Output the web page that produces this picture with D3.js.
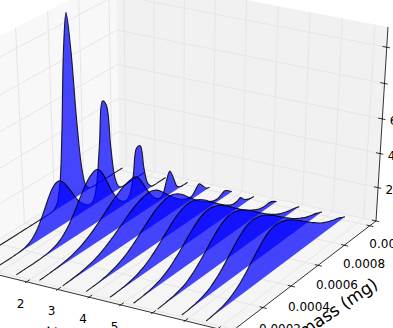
<!DOCTYPE html>
<html>
<head>
<meta charset="utf-8">
<script src="https://cdn.jsdelivr.net/npm/d3@7"></script>
<style>
html, body { margin: 0; padding: 0; background: #fff; overflow: hidden; }
svg { display: block; }
text { font-family: "DejaVu Sans", sans-serif; fill: #000; }
</style>
</head>
<body>
<div id="plot"></div>
<script>
const xTicks = [0, 1, 2, 3, 4, 5, 6, 7, 8];
const xLabels = [2, 3, 4, 5];
const massTicks = [0.0002, 0.0004, 0.0006, 0.0008, 0.0010, 0.0012];
const massLabels = [0.0002, 0.0004, 0.0006, 0.0008, 0.0010];
const zTicks = [0, 2, 4, 6, 8, 10];
const zLabels = [2, 4, 6];
const curveX = [0, 0.75, 1.5, 2.25, 3, 3.75, 4.5, 5.25, 6, 6.75, 7.5];
const massGrid = [
    0.000212, 0.000234, 0.000256, 0.000278, 0.000301, 0.000323, 0.000346, 0.000368, 0.000391, 0.000414, 0.000437,
    0.00046, 0.000483, 0.000506, 0.000529, 0.000553, 0.000576, 0.0006, 0.000624, 0.000647, 0.000671, 0.000695,
    0.00072, 0.000744, 0.000768, 0.000793, 0.000817, 0.000842, 0.000867, 0.000891, 0.000916, 0.000942, 0.000967,
    0.000992, 0.001017, 0.001043, 0.001068, 0.001094, 0.00112, 0.001146, 0.001172, 0.001198, 0.001224
];
const curve0 = [0,0,0,0,0,0,0,0,0,0,0,0,0,0,0,0,0,0,0,0,0,0,0,.04,.31,1.46,4.43,8.64,10.8,8.64,4.43,1.46,.31,.04,0,0,0,0,0,0,0,0,0];
const curve1 = [0,0,0,0,0,0,.01,.02,.04,.09,.18,.33,.56,.88,1.28,1.73,2.16,2.5,2.68,2.66,2.44,2.08,1.64,1.19,.8,.5,.29,.19,.29,1.16,3.38,5.75,5.4,2.83,.83,.14,0,0,0,0,0,0,0];
const curve2 = [0,0,0,0,0,0,.01,.02,.04,.07,.12,.19,.3,.45,.66,.92,1.23,1.58,1.96,2.32,2.65,2.9,3.06,3.09,2.89,2.44,1.88,1.31,.83,.47,.25,.16,.4,1.4,2.9,2.9,1.4,.35,.04,0,0,0,0];
const curve3 = [0,0,.01,.02,.04,.05,.08,.11,.14,.19,.25,.32,.41,.52,.64,.78,.93,1.1,1.27,1.46,1.64,1.81,1.97,2.12,2.24,2.33,2.38,2.4,2.27,1.92,1.46,.99,.6,.32,.16,.26,.88,1.4,.85,.19,.02,0,0];
const curve4 = [.01,.02,.03,.05,.07,.09,.13,.17,.22,.28,.36,.45,.56,.68,.82,.96,1.12,1.27,1.43,1.59,1.73,1.85,1.96,2.04,2.08,2.1,2.06,1.94,1.75,1.52,1.27,1.02,.79,.58,.42,.28,.19,.2,.43,.64,.38,.09,0];
const curve5 = [.01,.02,.03,.04,.06,.09,.12,.18,.24,.31,.41,.51,.63,.78,.94,1.11,1.3,1.48,1.66,1.83,1.99,2.11,2.2,2.27,2.29,2.26,2.16,2.02,1.83,1.61,1.39,1.15,.94,.74,.57,.43,.31,.22,.19,.29,.37,.23,.03];
const curve6 = [.01,.01,.02,.04,.05,.08,.12,.17,.23,.32,.41,.54,.68,.84,1.02,1.21,1.42,1.61,1.81,1.98,2.13,2.24,2.31,2.33,2.31,2.24,2.13,1.98,1.81,1.61,1.42,1.21,1.02,.84,.68,.54,.45,.46,.55,.31,.15,.08,.03];
const curve7 = [.01,.02,.03,.05,.08,.11,.15,.22,.29,.39,.51,.65,.83,1.01,1.21,1.43,1.65,1.84,2.04,2.2,2.32,2.4,2.42,2.4,2.33,2.23,2.1,1.94,1.75,1.57,1.37,1.18,.99,.83,.68,.55,.43,.33,.27,.27,.28,.19,.03];
const curve8 = [.01,.02,.03,.06,.08,.11,.16,.22,.3,.41,.55,.71,.9,1.1,1.31,1.55,1.77,1.99,2.18,2.34,2.44,2.5,2.51,2.46,2.39,2.28,2.14,1.98,1.8,1.61,1.42,1.24,1.06,.9,.74,.6,.48,.38,.3,.22,.17,.11,.03];
const curve9 = [.01,.02,.03,.06,.08,.13,.18,.25,.34,.47,.62,.79,.98,1.21,1.44,1.68,1.9,2.12,2.3,2.45,2.53,2.57,2.54,2.5,2.41,2.29,2.15,2,1.82,1.64,1.46,1.28,1.12,.95,.8,.66,.55,.43,.34,.27,.21,.11,.03];
const curve10 = [.01,.02,.05,.07,.11,.15,.22,.3,.42,.55,.71,.91,1.11,1.36,1.6,1.84,2.07,2.27,2.45,2.56,2.62,2.63,2.6,2.53,2.45,2.32,2.19,2.02,1.86,1.68,1.51,1.33,1.16,1.01,.85,.71,.6,.49,.4,.32,.25,.14,.03];
const curves = [curve0, curve1, curve2, curve3, curve4, curve5, curve6, curve7, curve8, curve9, curve10];

const width = 393, height = 328;
const xDomain = [-0.25, 8.4], massDomain = [0.00018, 0.00125], zDomain = [0, 11.1];

const x = d3.scaleLinear().domain(xDomain).range([0, 1]);
const y = d3.scaleLinear().domain(massDomain).range([0, 1]);
const z = d3.scaleLinear().domain(zDomain).range([0, 1]);

// screen positions of the box corners, the rest of the 3d view follows from them
const floorCorners = [[-42, 265], [231, 332], [376, 221], [119, 164]];
const topRight = [388, 27], topBack = [116, -22];

function makeProjection() {
    let [[x0, y0], [x1, y1], [x2, y2], [x3, y3]] = floorCorners;
    let dx1 = x1 - x2, dx2 = x3 - x2, sx = x0 - x1 + x2 - x3;
    let dy1 = y1 - y2, dy2 = y3 - y2, sy = y0 - y1 + y2 - y3;
    let den = dx1 * dy2 - dx2 * dy1;
    let g = (sx * dy2 - dx2 * sy) / den;
    let h = (dx1 * sy - sx * dy1) / den;
    let a = x1 - x0 + g * x1, b = x3 - x0 + h * x3;
    let d = y1 - y0 + g * y1, e = y3 - y0 + h * y3;

    // vanishing point of the verticals
    let m1 = (topRight[0] - x2) / (topRight[1] - y2);
    let m2 = (topBack[0] - x3) / (topBack[1] - y3);
    let vy = (x3 - m2 * y3 - x2 + m1 * y2) / (m1 - m2);
    let vx = x2 + m1 * (vy - y2);
    let wC = g + h + 1;
    let l = wC * (y2 - topRight[1]) / (topRight[1] - vy);

    return (u, v, w) => {
        let hx = a * u + b * v + x0 + l * vx * w;
        let hy = d * u + e * v + y0 + l * vy * w;
        let hw = g * u + h * v + 1 + l * w;
        return [hx / hw, hy / hw];
    };
}
const project3 = makeProjection();
const project = (a, b, c) => project3(x(a), y(b), z(c));

const svg = d3.select("#plot").append("svg")
    .attr("width", width)
    .attr("height", height);

const straight = d3.line();
const [xLo, xHi] = xDomain, [mLo, mHi] = massDomain, [zLo, zHi] = zDomain;

// panes
svg.append("path")
    .attr("d", straight([project(xLo, mLo, zLo), project(xLo, mHi, zLo), project(xLo, mHi, zHi), project(xLo, mLo, zHi)]) + "Z")
    .attr("fill", "#f8f8f8");
svg.append("path")
    .attr("d", straight([project(xLo, mHi, zLo), project(xHi, mHi, zLo), project(xHi, mHi, zHi), project(xLo, mHi, zHi)]) + "Z")
    .attr("fill", "#f1f1f1");
svg.append("path")
    .attr("d", straight([project(xLo, mLo, zLo), project(xHi, mLo, zLo), project(xHi, mHi, zLo), project(xLo, mHi, zLo)]) + "Z")
    .attr("fill", "#f5f5f5");

// grid
let gridLines = [];
xTicks.forEach(t => {
    gridLines.push([project(t, mLo, zLo), project(t, mHi, zLo), project(t, mHi, zHi)]);
});
massTicks.forEach(t => {
    gridLines.push([project(xHi, t, zLo), project(xLo, t, zLo), project(xLo, t, zHi)]);
});
zTicks.forEach(t => {
    gridLines.push([project(xLo, mLo, t), project(xLo, mHi, t), project(xHi, mHi, t)]);
});
svg.append("g").selectAll("path")
    .data(gridLines)
    .enter()
    .append("path")
        .attr("d", d => straight(d))
        .attr("fill", "none")
        .attr("stroke", "#e6e6e6")
        .attr("stroke-width", 1);

// axis lines
let axisLines = [
    [project(xLo, mLo, zLo), project(xHi, mLo, zLo)],
    [project(xHi, mLo, zLo), project(xHi, mHi, zLo)],
    [project(xHi, mHi, zLo), project(xHi, mHi, zHi)]
];
xTicks.forEach(t => axisLines.push([project(t, mLo - 0.00001, zLo), project(t, mLo + 0.00002, zLo)]));
massTicks.forEach(t => axisLines.push([project(xHi - 0.1, t, zLo), project(xHi + 0.12, t, zLo)]));
zTicks.forEach(t => axisLines.push([project(xHi - 0.13, mHi, t), project(xHi + 0.1, mHi, t)]));
svg.append("g").selectAll("path")
    .data(axisLines)
    .enter()
    .append("path")
        .attr("d", d => straight(d))
        .attr("fill", "none")
        .attr("stroke", "#000")
        .attr("stroke-width", 0.8);

// polygons, back to front
const curveLine = d3.line().curve(d3.curveCatmullRom);
curves.forEach((values, i) => {
    let pts = values.map((v, j) => project(curveX[i], massGrid[j], v));
    let group = svg.append("g");
    group.append("path")
        .attr("d", curveLine(pts) + "Z")
        .attr("fill", "#0000ff")
        .attr("fill-opacity", 0.72);
    group.append("path")
        .attr("d", curveLine(pts))
        .attr("fill", "none")
        .attr("stroke", "#000")
        .attr("stroke-opacity", 0.85)
        .attr("stroke-width", 1.1);
});

// tick labels
xLabels.forEach(t => {
    let [px, py] = project(t, mLo, zLo);
    svg.append("text")
        .attr("x", px - 6)
        .attr("y", py + 26)
        .attr("text-anchor", "middle")
        .attr("font-size", 12)
        .text(t);
});
massLabels.forEach(t => {
    let [px, py] = project(xHi, t, zLo);
    svg.append("text")
        .attr("x", px + 46)
        .attr("y", py + 3)
        .attr("text-anchor", "middle")
        .attr("font-size", 12)
        .text(t.toFixed(4));
});
zLabels.forEach(t => {
    let [px, py] = project(xHi, mHi, t);
    svg.append("text")
        .attr("x", px + 7.5)
        .attr("y", py + 6.5)
        .attr("font-size", 12)
        .text(t);
});

svg.append("text")
    .attr("text-anchor", "end")
    .attr("font-size", 17)
    .attr("transform", "translate(379,287) rotate(-34)")
    .text("mass (mg)");
svg.append("text")
    .attr("font-size", 16)
    .attr("transform", "translate(45,338) rotate(6)")
    .text("Hours");
</script>
</body>
</html>
